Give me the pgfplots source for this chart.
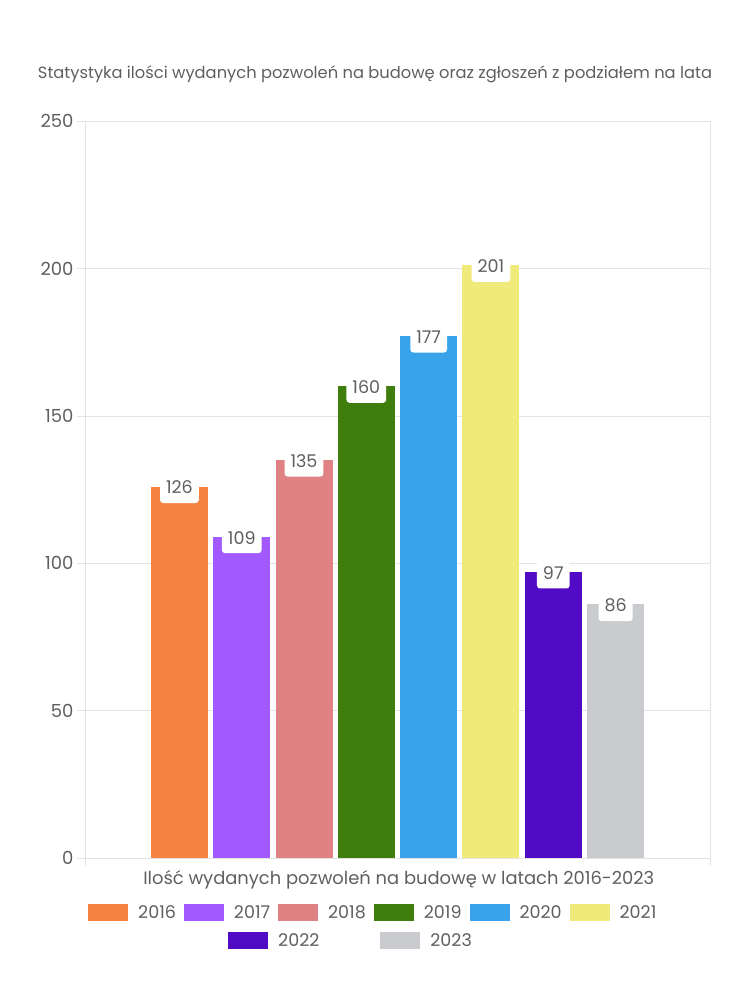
\documentclass[border=0pt]{standalone}
\usepackage{pgfplots}
\pgfplotsset{compat=1.18}
\usepackage{fontspec}
\setmainfont{Poppins}
\definecolor{c2016}{HTML}{F5833F}
\definecolor{c2017}{HTML}{A259FF}
\definecolor{c2018}{HTML}{E08283}
\definecolor{c2019}{HTML}{3F7D0C}
\definecolor{c2020}{HTML}{38A3EA}
\definecolor{c2021}{HTML}{F0EA7A}
\definecolor{c2022}{HTML}{510BC4}
\definecolor{c2023}{HTML}{CACBCE}
\definecolor{txt}{HTML}{5F5F5F}
\definecolor{gridc}{HTML}{E3E3E3}
\begin{document}
\begin{tikzpicture}[x=1pt,y=1pt]
\useasboundingbox (0,0) rectangle (750,1000);
\pgfplotsset{
  common/.style={
    at={(85pt,142pt)}, anchor=south west,
    scale only axis, width=625pt, height=737pt,
    xmin=-1.515, xmax=8.515, ymin=0, ymax=250,
    legend style={draw=none, fill=none, inner sep=0pt, font=\fontsize{17.5}{20}\selectfont, text=txt,
      /tikz/every even column/.style={column sep=6pt},
      /tikz/every odd column/.style={column sep=8pt}},
  },
  myleg/.style={legend image code/.code={\path[##1, draw=none] (0pt,-8.5pt) rectangle (40pt,8.5pt);}},
}
\begin{axis}[common,
  axis line style={gridc},
  ymajorgrids, grid style={gridc},
  ytick={0,50,100,150,200,250},
  xtick={-1.515,8.515}, xticklabels={},
  xtick pos=bottom, ytick pos=left,
  tick align=outside, major tick length=8pt, tick style={gridc},
  yticklabel style={font=\fontsize{18}{20}\selectfont, text=txt},
  /pgf/number format/assume math mode=true,
  ybar, bar width=57pt,
  myleg,
  nodes near coords,
  every node near coord/.append style={anchor=center, yshift=-1pt, fill=white, rounded corners=3pt,
     text=txt, inner xsep=6pt, inner ysep=9pt, font=\fontsize{17.5}{20}\selectfont,
     /pgf/number format/assume math mode=true},
  title={Statystyka ilości wydanych pozwoleń na budowę oraz zgłoszeń z podziałem na lata},
  title style={at={(axis description cs:0.464,1)}, anchor=center, yshift=41pt, font=\fontsize{16.3}{18}\selectfont, text=txt},
  xlabel={Ilość wydanych pozwoleń na budowę w latach 2016-2023},
  xlabel style={at={(axis description cs:0.502,0)}, anchor=center, yshift=-22pt, font=\fontsize{17.9}{20}\selectfont, text=txt},
  legend columns=6,
  legend style={at={(axis description cs:0.0048,-0.0611)}, anchor=north west},
]
\addplot[fill=c2016, draw=none, bar shift=0pt] coordinates {(0,126)};
\addplot[fill=c2017, draw=none, bar shift=0pt] coordinates {(1,109)};
\addplot[fill=c2018, draw=none, bar shift=0pt] coordinates {(2,135)};
\addplot[fill=c2019, draw=none, bar shift=0pt] coordinates {(3,160)};
\addplot[fill=c2020, draw=none, bar shift=0pt] coordinates {(4,177)};
\addplot[fill=c2021, draw=none, bar shift=0pt] coordinates {(5,201)};
\addplot[fill=c2022, draw=none, bar shift=0pt, forget plot] coordinates {(6,97)};
\addplot[fill=c2023, draw=none, bar shift=0pt, forget plot] coordinates {(7,86)};
\legend{2016,2017,2018,2019,2020,2021}
\end{axis}
\begin{axis}[common, hide axis, myleg, legend columns=2,
  legend style={at={(axis description cs:0.2288,-0.099)}, anchor=north west,
    /tikz/every even column/.style={column sep=59pt}}]
\addlegendimage{fill=c2022}
\addlegendentry{2022}
\addlegendimage{fill=c2023}
\addlegendentry{2023}
\end{axis}
\end{tikzpicture}
\end{document}
